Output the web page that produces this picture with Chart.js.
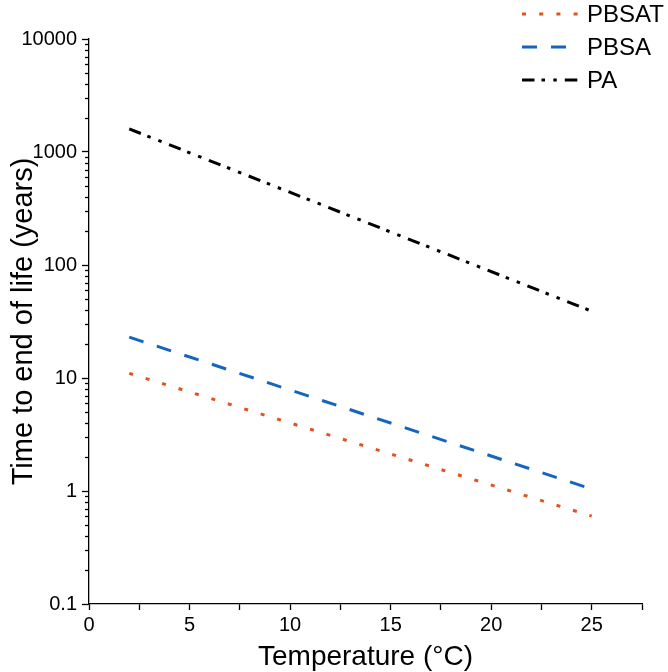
<!DOCTYPE html>
<html>
<head>
<meta charset="utf-8">
<script src="https://cdn.jsdelivr.net/npm/chart.js@4"></script>
<style>
  html,body{margin:0;padding:0;background:#fff;}
  #wrap{width:668px;height:672px;position:relative;}
</style>
</head>
<body>
<div id="wrap"><canvas id="c"></canvas></div>
<script>
// data
const temps=[2,25];
const pbsat=[11,0.6];
const pbsa=[23,1.04];
const pa=[1600,39];
const seriesNames=['PBSAT','PBSA','PA'];
const yDecades=[0.1,1,10,100,1000,10000];

const FONT='"Liberation Sans", Arial, sans-serif';
const colors={PBSAT:'#e2531f',PBSA:'#1565c0',PA:'#000000'};
const dashes={PBSAT:[4,13.2],PBSA:[15,14],PA:[12.5,7,3.5,8.3,3.5,8]};

const pts=(xs,ys)=>xs.map((x,i)=>({x,y:ys[i]}));
const mk=(name,vals)=>({label:name,data:pts(temps,vals),borderColor:colors[name],borderDash:dashes[name],
  borderWidth:3,pointRadius:0,tension:0,fill:false,borderCapStyle:'butt'});

// minor log ticks + legend drawn on top
const extras={
  id:'extras',
  afterDraw(chart){
    const {ctx}=chart; const y=chart.scales.y;
    ctx.save();
    ctx.strokeStyle='#000'; ctx.lineWidth=1.3;
    for(let d=0; d<yDecades.length-1; d++){
      for(let k=2;k<=9;k++){
        const py=Math.round(y.getPixelForValue(yDecades[d]*k))+0.5;
        ctx.beginPath(); ctx.moveTo(y.right-4,py); ctx.lineTo(y.right,py); ctx.stroke();
      }
    }
    // legend
    const rows=[14,47,80];
    ctx.font='24px '+FONT; ctx.textBaseline='middle'; ctx.fillStyle='#000';
    chart.data.datasets.forEach((ds,i)=>{
      ctx.strokeStyle=ds.borderColor; ctx.lineWidth=3; ctx.setLineDash(ds.borderDash);
      ctx.beginPath(); ctx.moveTo(522,rows[i]); ctx.lineTo(578,rows[i]); ctx.stroke();
      ctx.setLineDash([]);
      ctx.fillText(ds.label,587,rows[i]+1);
    });
    ctx.restore();
  }
};

new Chart(document.getElementById('c'),{
  type:'line',
  data:{datasets:[mk('PBSAT',pbsat),mk('PBSA',pbsa),mk('PA',pa)]},
  options:{
    responsive:true,maintainAspectRatio:false,animation:false,
    layout:{padding:{top:39,right:26,left:0,bottom:0}},
    plugins:{legend:{display:false},tooltip:{enabled:false}},
    scales:{
      x:{type:'linear',min:0,max:27.5,
        afterBuildTicks:s=>{const t=[];for(let v=0;v<=27.5;v+=2.5)t.push({value:v});s.ticks=t;},
        afterFit:s=>{s.height=68;},
        border:{color:'#000',width:1.3},
        grid:{drawOnChartArea:false,drawTicks:true,tickLength:6,tickColor:'#000',tickWidth:1.3},
        ticks:{autoSkip:false,maxRotation:0,padding:3,color:'#000',font:{family:FONT,size:20},
          callback:v=>v%5===0?String(v):''},
        title:{display:true,text:'Temperature (°C)',color:'#000',font:{family:FONT,size:28},padding:{top:0,bottom:-2}}
      },
      y:{type:'logarithmic',min:0.1,max:10000,
        afterBuildTicks:s=>{s.ticks=yDecades.map(v=>({value:v,major:true}));},
        afterFit:s=>{s.width=89;},
        border:{color:'#000',width:1.3},
        grid:{drawOnChartArea:false,drawTicks:true,tickLength:7,tickColor:'#000',tickWidth:1.3},
        ticks:{autoSkip:false,padding:5,color:'#000',font:{family:FONT,size:20},
          callback:v=>String(v)},
        title:{display:true,text:'Time to end of life (years)',color:'#000',font:{family:FONT,size:29},padding:{top:7,bottom:0}}
      }
    }
  },
  plugins:[extras]
});
</script>
</body>
</html>
